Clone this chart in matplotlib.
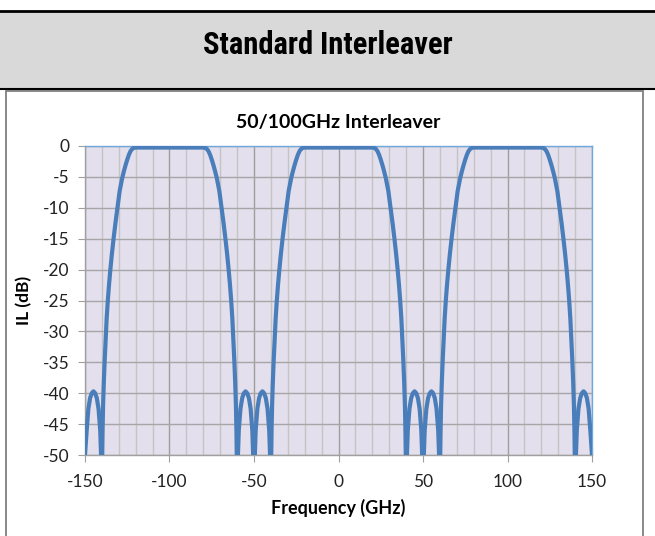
import matplotlib
matplotlib.use("Agg")
import matplotlib.pyplot as plt
from matplotlib import font_manager
from matplotlib.patches import Rectangle
from matplotlib.lines import Line2D

plt.rcParams["axes.unicode_minus"] = False

# values
# --------------------------------------------------
# one passband (edge down, flat top, edge up) - same reading for all three
il_passband = [-60, -50, -46, -42, -38.5, -35, -31.5, -28, -25, -22.5, -20, -17.5, -15,
               -12.5, -10, -7.3, -5.2, -4.1, -3.1, -2.2, -1.4, -0.8, -0.45, -0.3, -0.25,
               -0.25, -0.3, -0.45, -0.8, -1.4, -2.2, -3.1, -4.1, -5.2, -7.3, -10, -12.5,
               -15, -17.5, -20, -22.5, -25, -28, -31.5, -35, -38.5, -42, -46, -50, -60]
# two side lobes of a stopband
il_stopband = [-50, -46, -42.5, -40.8, -40, -39.7, -40, -40.8, -42.5, -46, -50, -60,
               -50, -46, -42.5, -40.8, -40, -39.7, -40, -40.8, -42.5, -46, -50]
il_edge_left = [-50, -46, -42.5, -40.8, -40, -39.7, -40, -40.8, -42.5, -46, -50]
il_edge_right = [-50, -46, -42.5, -40.8, -40, -39.7, -40, -40.8, -42.5, -46, -50]

freq_edge_left = [-150, -149, -148, -147, -146, -145, -144, -143, -142, -141, -140.5]
freq_pass_m100 = [-140, -139.8, -139.6, -139.3, -138.9, -138.4, -137.8, -137.2, -136.5, -135.8,
                  -135, -134.1, -133.1, -132, -130.8, -129.5, -128, -127, -126, -125, -124,
                  -123, -122, -121, -120,
                  -80, -79, -78, -77, -76, -75, -74, -73, -72, -70.5, -69.2, -68, -66.9,
                  -65.9, -65, -64.2, -63.5, -62.8, -62.2, -61.6, -61.1, -60.7, -60.4, -60.2, -60]
freq_stop_m50 = [-59.5, -59, -58, -57, -56, -55, -54, -53, -52, -51, -50.5, -50,
                 -49.5, -49, -48, -47, -46, -45, -44, -43, -42, -41, -40.5]
freq_pass_0 = [-40, -39.8, -39.6, -39.3, -38.9, -38.4, -37.8, -37.2, -36.5, -35.8,
               -35, -34.1, -33.1, -32, -30.8, -29.5, -28, -27, -26, -25, -24,
               -23, -22, -21, -20,
               20, 21, 22, 23, 24, 25, 26, 27, 28, 29.5, 30.8, 32, 33.1,
               34.1, 35, 35.8, 36.5, 37.2, 37.8, 38.4, 38.9, 39.3, 39.6, 39.8, 40]
freq_stop_50 = [40.5, 41, 42, 43, 44, 45, 46, 47, 48, 49, 49.5, 50,
                50.5, 51, 52, 53, 54, 55, 56, 57, 58, 59, 59.5]
freq_pass_100 = [60, 60.2, 60.4, 60.7, 61.1, 61.6, 62.2, 62.8, 63.5, 64.2,
                 65, 65.9, 66.9, 68, 69.2, 70.5, 72, 73, 74, 75, 76,
                 77, 78, 79, 80,
                 120, 121, 122, 123, 124, 125, 126, 127, 128, 129.5, 130.8, 132, 133.1,
                 134.1, 135, 135.8, 136.5, 137.2, 137.8, 138.4, 138.9, 139.3, 139.6, 139.8, 140]
freq_edge_right = [140.5, 141, 142, 143, 144, 145, 146, 147, 148, 149, 150]

freq_ghz = (freq_edge_left + freq_pass_m100 + freq_stop_m50 + freq_pass_0
            + freq_stop_50 + freq_pass_100 + freq_edge_right)
il_db = (il_edge_left + il_passband + il_stopband + il_passband
         + il_stopband + il_passband + il_edge_right)

x_ticks = [-150, -100, -50, 0, 50, 100, 150]
y_ticks = [0, -5, -10, -15, -20, -25, -30, -35, -40, -45, -50]

header_text = "Standard Interleaver"
chart_title = "50/100GHz Interleaver"

W, H = 655, 536
def fy(y):
    return 1 - y / H

# condensed bold for the header, if there is one
head_font = None
for fam, st in [("Liberation Sans Narrow", "normal"), ("Roboto Condensed", "normal"),
                ("DejaVu Sans", "condensed")]:
    try:
        fp = font_manager.FontProperties(family=fam, weight="bold", stretch=st)
        path = font_manager.findfont(fp, fallback_to_default=False)
        if st == "condensed" and "Condensed" not in path:
            continue
        head_font = (fam, st)
        break
    except Exception:
        pass

fig = plt.figure(figsize=(W / 100, H / 100), dpi=100)

# header band + frame
# --------------------------------------------------
fig.add_artist(Rectangle((0, fy(88.5)), 1, fy(12) - fy(88.5), transform=fig.transFigure,
                         facecolor="#D9D9D9", edgecolor="none", zorder=0))
fig.add_artist(Line2D([0, 1], [fy(11), fy(11)], transform=fig.transFigure, color="black", lw=2.0))
fig.add_artist(Line2D([0, 1], [fy(89), fy(89)], transform=fig.transFigure, color="black", lw=1.5))
fig.add_artist(Rectangle((6 / W, fy(545)), (643 - 6) / W, fy(91) - fy(545), transform=fig.transFigure,
                         facecolor="none", edgecolor="#7F7F7F", lw=1.3, zorder=1))
if head_font is not None:
    fig.text(0.5, fy(44.5), header_text, ha="center", va="center", fontsize=22, fontweight="bold",
             family=head_font[0], fontstretch=head_font[1])
else:
    fig.text(0.5, fy(44.5), header_text, ha="center", va="center", fontsize=15.5, fontweight="bold",
             family="DejaVu Sans")

# chart
# --------------------------------------------------
ax = fig.add_axes([85 / W, fy(455), (592 - 85) / W, fy(146) - fy(455)])
ax.set_facecolor("#E4DFEC")
ax.plot(freq_ghz, il_db, color="#4A7EBB", lw=3.0, solid_joinstyle="round", zorder=3)

ax.set_xlim(-150, 150)
ax.set_ylim(-50, 0)
ax.set_xticks(x_ticks)
ax.set_xticks(range(-150, 151, 10), minor=True)
ax.set_yticks(y_ticks)
ax.grid(which="minor", axis="x", color="#C4C4C4", lw=1.0)
ax.grid(which="major", axis="x", color="#9E9E9E", lw=1.0)
ax.grid(which="major", axis="y", color="#A6A6A6", lw=1.0)
ax.set_axisbelow(True)

for s in ["top", "right"]:
    ax.spines[s].set_color("#6FA8DC")
    ax.spines[s].set_linewidth(1.0)
for s in ["left", "bottom"]:
    ax.spines[s].set_color("#A0A0A0")
    ax.spines[s].set_linewidth(1.0)

ax.tick_params(axis="both", which="major", length=5, color="#A0A0A0", labelsize=12.5, labelcolor="#222222")
ax.tick_params(axis="x", which="major", pad=9)
ax.tick_params(axis="y", which="major", pad=6)
ax.tick_params(axis="x", which="minor", length=0)
for lab in ax.get_xticklabels() + ax.get_yticklabels():
    lab.set_family(["Lato", "DejaVu Sans"])

ax.set_title(chart_title, fontsize=14, fontweight="bold", family=["Lato", "DejaVu Sans"], pad=13)
ax.set_xlabel("Frequency (GHz)", fontsize=13, fontweight="bold", family=["Lato", "DejaVu Sans"], labelpad=6)
ax.set_ylabel("IL (dB)", fontsize=12.5, fontweight="bold", family=["Lato", "DejaVu Sans"], labelpad=8)

fig.savefig("out.png", dpi=100)
